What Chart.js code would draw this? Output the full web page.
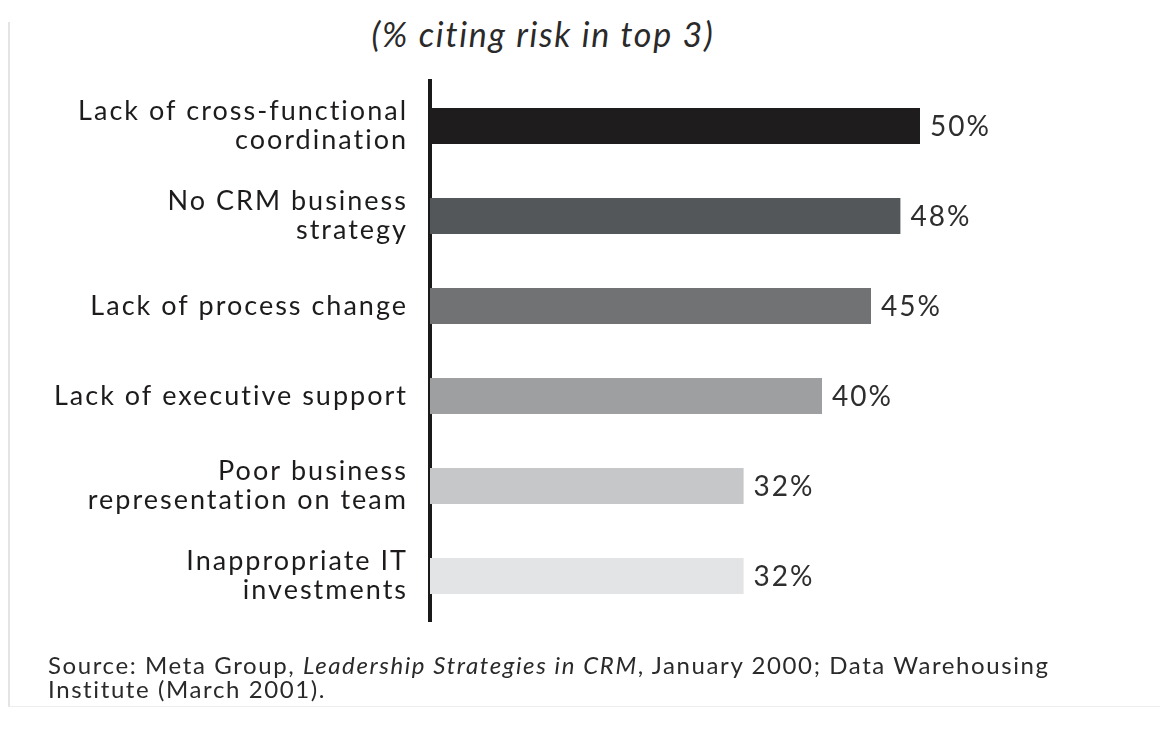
<!DOCTYPE html>
<html>
<head>
<meta charset="utf-8">
<script src="https://cdn.jsdelivr.net/npm/chart.js@4.4.1/dist/chart.umd.min.js"></script>
<style>
  html, body { margin: 0; padding: 0; background: #fff; }
  #wrap { position: relative; width: 1163px; height: 734px; overflow: hidden; }
  #frame { position: absolute; left: 8px; top: 22px; width: 1150px; height: 684px;
           border-left: 2px solid #e4e4e4; border-bottom: 1px solid #eeeeee; }
  #title { position: absolute; left: 0; width: 1086px; top: 13px; text-align: center;
           font: italic 34px Lato, sans-serif; letter-spacing: 1.7px; color: #2a2a2a; }
  #source { position: absolute; left: 48px; top: 653px; font: 24px Lato, sans-serif;
            letter-spacing: 1.6px; line-height: 24px; color: #2a2a2a; }
  canvas { position: absolute; left: 0; top: 0; }
</style>
</head>
<body>
<div id="wrap">
  <div id="frame"></div>
  <div id="title">(% citing risk in top 3)</div>
  <canvas id="myChart" width="1163" height="734"></canvas>
  <div id="source">Source: Meta Group, <i>Leadership Strategies in CRM</i>, January 2000; Data Warehousing<br>Institute (March 2001).</div>
</div>
<script>
  // risks cited in top 3
  var categories = [
    ["Lack of cross-functional", "coordination"],
    ["No CRM business", "strategy"],
    "Lack of process change",
    "Lack of executive support",
    ["Poor business", "representation on team"],
    ["Inappropriate IT", "investments"]
  ];
  var values = [50, 48, 45, 40, 32, 32];
  var barColors = ["#1f1c1d", "#545759", "#707274", "#9d9fa1", "#c6c7c8", "#e3e4e5"];

  /**
   * wider letters, closer to the original typeface
   */
  var spacing = {
    id: 'spacing',
    beforeDraw: function (chart) {
      chart.ctx.letterSpacing = '2px';
    }
  };

  /**
   * write the percent at the end of each bar
   */
  var valueLabels = {
    id: 'valueLabels',
    afterDatasetsDraw: function (chart) {
      var ctx = chart.ctx;
      var meta = chart.getDatasetMeta(0);
      ctx.save();
      ctx.font = '28px Lato, sans-serif';
      ctx.letterSpacing = '2px';
      ctx.fillStyle = '#2e2e2e';
      ctx.textAlign = 'left';
      ctx.textBaseline = 'middle';
      meta.data.forEach(function (bar, i) {
        ctx.fillText(values[i] + '%', bar.x + 10, bar.y + 1);
      });
      ctx.restore();
    }
  };

  var ctx = document.getElementById("myChart").getContext("2d");

  var myChart = new Chart(ctx, {
    type: 'bar',
    data: {
      labels: categories,
      datasets: [{
        data: values,
        backgroundColor: barColors,
        borderWidth: 0,
        barPercentage: 0.4,
        categoryPercentage: 1
      }]
    },
    options: {
      indexAxis: 'y',
      responsive: false,
      animation: false,
      layout: { padding: { top: 81, bottom: 113, left: 0, right: 145 } },
      plugins: {
        legend: { display: false },
        tooltip: { enabled: false }
      },
      scales: {
        x: {
          min: 0,
          max: 60,
          display: false,
          grid: { display: false }
        },
        y: {
          grid: { display: false, drawTicks: false },
          border: { display: true, color: '#1a1a1a', width: 4 },
          ticks: {
            padding: 22,
            color: '#1e1b1c',
            font: { family: 'Lato, sans-serif', size: 27, lineHeight: 1.08 }
          },
          afterFit: function (scale) {
            scale.width = 430;
          }
        }
      }
    },
    plugins: [spacing, valueLabels]
  });
</script>
</body>
</html>
